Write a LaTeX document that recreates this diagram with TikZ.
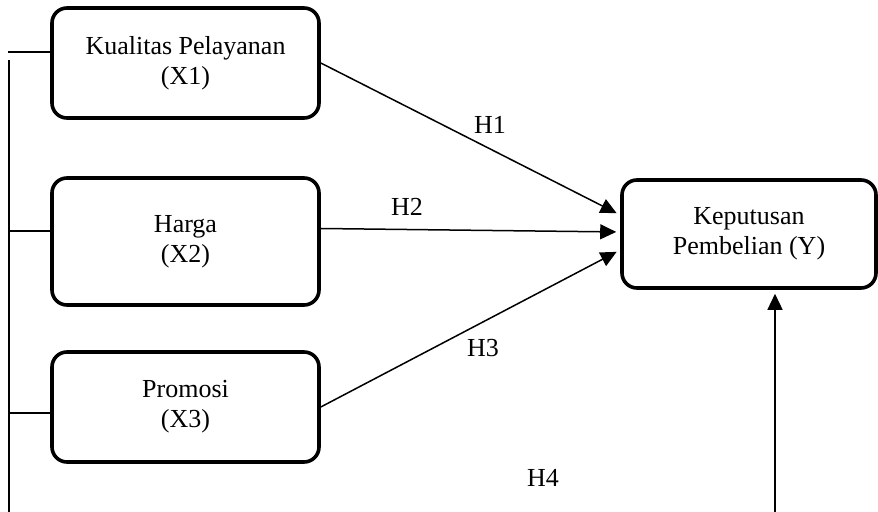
\documentclass[tikz,border=0pt]{standalone}
\usepackage{fontspec}
\setmainfont{Liberation Serif}
\usetikzlibrary{arrows.meta, calc}

\begin{document}
\begin{tikzpicture}[
  x=0.5pt, y=-0.5pt,
  every node/.style={font=\fontsize{13}{15}\selectfont},
  var/.style={rectangle, draw, line width=1.8pt, rounded corners=7.5pt,
              align=center, inner sep=0pt, minimum width=133.5pt},
  dep/.style={var, minimum width=127pt, minimum height=54pt},
  ln/.style ={line width=0.75pt},
  hyp/.style={ln, -{Triangle[length=8pt,width=7.5pt]}, shorten >=2pt}
]
\useasboundingbox (0,0) rectangle (878,512);

%% variables
\node[var, minimum height=55pt]   (x1) at (185.5,63)  {Kualitas Pelayanan\\(X1)};
\node[var, minimum height=63.5pt] (x2) at (185.5,241.5){Harga\\(X2)};
\node[var, minimum height=55pt]   (x3) at (185.5,407) {Promosi\\(X3)};
\node[dep] (y) at (749,234) {Keputusan\\Pembelian (Y)};

%% left bracket
\coordinate (top) at (9,60);
\coordinate (bot) at (9,512);
\coordinate (s1) at (8,52);
\coordinate (s2) at (8,231);
\coordinate (s3) at (8,413);
\draw[ln] (top) -- (bot);
\foreach \s/\v in {s1/x1,s2/x2,s3/x3}
  \draw[ln] (\s) -- (\s -| \v.west);

%% hypotheses
\draw[hyp] (x1.east) -- ($(y.west)+(0,-19)$);
\draw[hyp] ($(x2.east)+(0,-13)$) -- ($(y.west)+(0,-2)$);
\draw[hyp] (x3.east) -- ($(y.west)+(0,16)$);
\coordinate (h4) at (775,512);
\draw[hyp] (h4) -- (h4 |- y.south);

%% labels
\node (l1) at (490,125) {H1};
\node (l2) at (407,207) {H2};
\node (l3) at (483,348) {H3};
\node (l4) at (543,478) {H4};
\end{tikzpicture}
\end{document}
